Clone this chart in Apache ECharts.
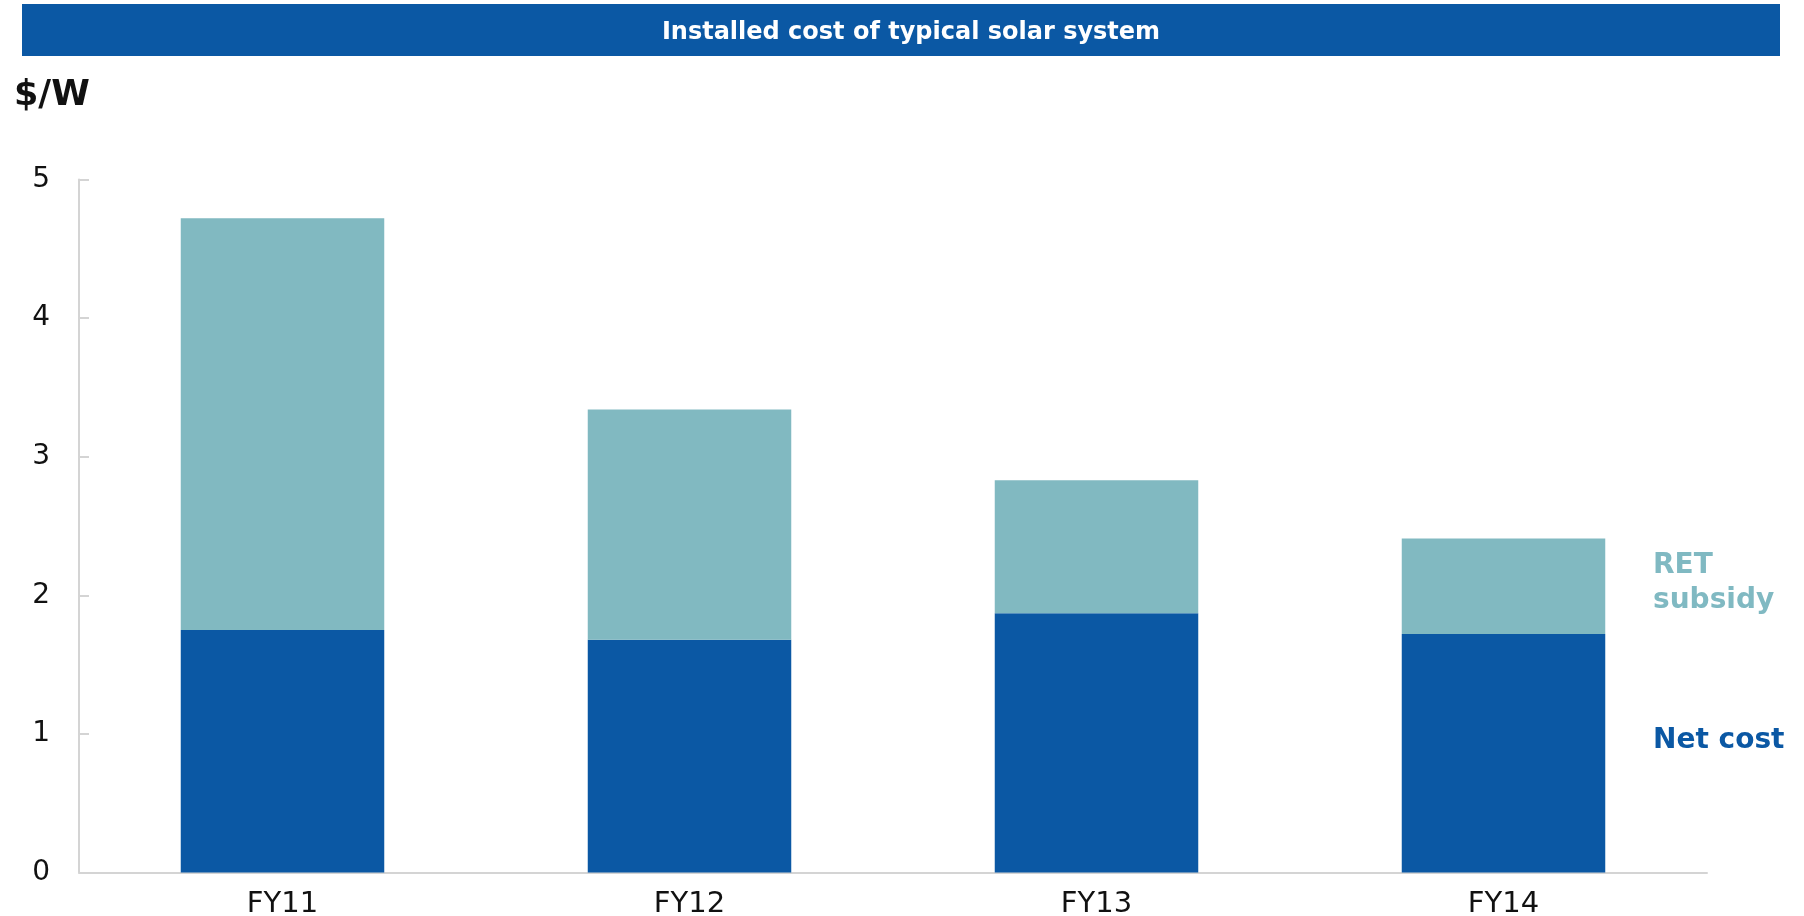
<!DOCTYPE html>
<html>
<head>
<meta charset="utf-8">
<script src="https://cdn.jsdelivr.net/npm/echarts@6/dist/echarts.min.js"></script>
<style>
html,body{margin:0;padding:0;background:#fff;}
#chart{width:1804px;height:916px;}
</style>
</head>
<body>
<div id="chart"></div>
<script>
// data ($/W)
var years = ['FY11', 'FY12', 'FY13', 'FY14'];
var netCost = [1.75, 1.68, 1.87, 1.72];
var retSubsidy = [2.97, 1.66, 0.96, 0.69];
var yTicks = [0, 1, 2, 3, 4, 5];

var chart = echarts.init(document.getElementById('chart'));
var font = 'DejaVu Sans, Verdana, sans-serif';

chart.setOption({
	animation : false,
	textStyle : { fontFamily : font },
	graphic : [
		{
			type : 'rect',
			shape : { x : 22, y : 4, width : 1758, height : 52 },
			style : { fill : '#0b58a4' }
		},
		{
			type : 'text',
			x : 911, y : 33,
			style : {
				text : 'Installed cost of typical solar system',
				fill : '#fff', font : 'bold 24px ' + font,
				textAlign : 'center', textVerticalAlign : 'middle'
			}
		},
		{
			type : 'text',
			x : 14, y : 96,
			style : {
				text : '$/W', fill : '#111',
				font : 'bold 35px ' + font,
				textVerticalAlign : 'middle'
			}
		},
		{
			type : 'text',
			x : 1653, y : 583,
			style : {
				text : 'RET\nsubsidy', fill : '#80b9c2',
				font : 'bold 28px ' + font, lineHeight : 35,
				textVerticalAlign : 'middle'
			}
		},
		{
			type : 'text',
			x : 1653, y : 741,
			style : {
				text : 'Net cost', fill : '#0b58a4',
				font : 'bold 28px ' + font,
				textVerticalAlign : 'middle'
			}
		}
	],
	grid : {
		left : 79, right : 97, top : 179.5, bottom : 43.5,
		containLabel : false,
		outerBoundsMode : 'none'
	},
	xAxis : [
		{
			type : 'category',
			data : years,
			axisLine : { lineStyle : { color : '#d4d4d4', width : 2 } },
			axisTick : { show : false },
			axisLabel : { color : '#111', fontSize : 29, margin : 17 }
		}
	],
	yAxis : [
		{
			type : 'value',
			min : yTicks[0], max : yTicks[yTicks.length - 1], interval : 1,
			axisLine : { show : true, lineStyle : { color : '#d4d4d4', width : 2 } },
			axisTick : { show : true, inside : true, length : 10, lineStyle : { color : '#d4d4d4', width : 2 } },
			axisLabel : { color : '#111', fontSize : 28, margin : 29, padding : [6, 0, 0, 0] },
			splitLine : { show : false }
		}
	],
	series : [
		{
			name : 'Net cost',
			type : 'bar',
			stack : 'cost',
			barWidth : '50%',
			data : netCost,
			itemStyle : { color : '#0b58a4' }
		},
		{
			name : 'RET subsidy',
			type : 'bar',
			stack : 'cost',
			data : retSubsidy,
			itemStyle : { color : '#81b9c1' }
		}
	]
});
</script>
</body>
</html>
